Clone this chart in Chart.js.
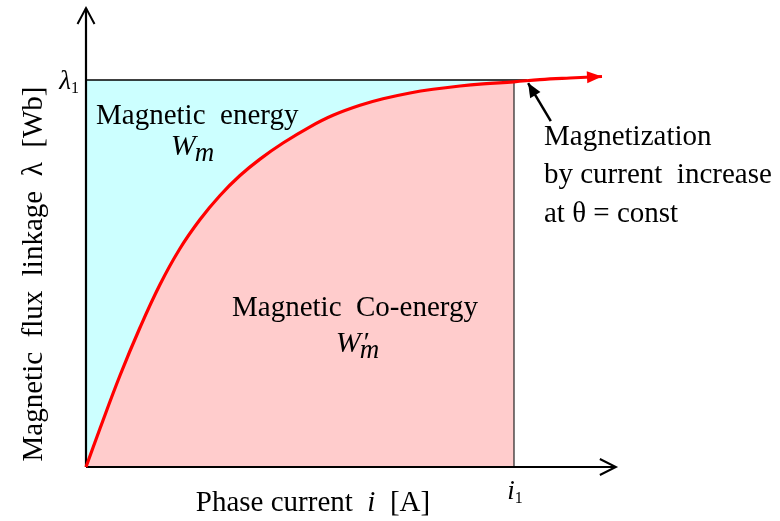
<!DOCTYPE html>
<html>
<head>
<meta charset="utf-8">
<script src="https://cdn.jsdelivr.net/npm/chart.js@4/dist/chart.umd.min.js"></script>
<style>
  html, body { margin: 0; padding: 0; background: #ffffff; }
  #wrap { width: 780px; height: 521px; position: relative; }
</style>
</head>
<body>
<div id="wrap"><canvas id="c"></canvas></div>
<script>
// ---- data (units: i / i1 and lambda / lambda1) ----
const curveCurrent = [0, 0.0327, 0.0794, 0.1262, 0.1729, 0.2196, 0.2664, 0.3131, 0.3598, 0.4065, 0.4603, 0.5234, 0.5771, 0.6402, 0.6939, 0.7570, 0.8107, 0.8738, 0.9276, 1.000, 1.0607, 1.1308, 1.2056];
const curveFlux    = [0, 0.0995, 0.2364, 0.3605, 0.4716, 0.5646, 0.6395, 0.7016, 0.7532, 0.7956, 0.8372, 0.8791, 0.9088, 0.9346, 0.9514, 0.9664, 0.9760, 0.9845, 0.9899, 0.9953, 1.0010, 1.0052, 1.0090];
const operatingCurrent = 1;   // i1
const operatingFlux = 1;      // lambda1
const xAxisEnd = 1.238;
const yAxisEnd = 1.186;
const xTickValues = [1];
const xTickLabels = [['i', '1']];
const yTickValues = [1];
const yTickLabels = [['λ', '1']];
const xAxisTitle = ['Phase current  ', 'i', '  [A]'];
const yAxisTitle = 'Magnetic  flux  linkage  λ  [Wb]';
const energyLabel = ['Magnetic  energy', 'W', 'm'];
const coenergyLabel = ['Magnetic  Co-energy', 'W', 'm'];
const noteLines = ['Magnetization', 'by current  increase', 'at θ = const'];
const notePointFrom = [1.086, 0.894];
const notePointTo = [1.033, 0.992];

// ---- derived datasets ----
const curvePts = curveCurrent.map((x, k) => ({ x: x, y: curveFlux[k] }));
const coPts = curvePts.filter(p => p.x <= operatingCurrent);
const topPts = [{ x: 0, y: operatingFlux }, { x: operatingCurrent, y: operatingFlux }];

const SERIF = '"Liberation Serif", "Times New Roman", serif';

function arrowHead(ctx, fx, fy, tx, ty, len, half, filled, color, lw) {
  const a = Math.atan2(ty - fy, tx - fx);
  const bx = tx - len * Math.cos(a), by = ty - len * Math.sin(a);
  const px = -Math.sin(a) * half, py = Math.cos(a) * half;
  ctx.save();
  ctx.strokeStyle = color; ctx.fillStyle = color; ctx.lineWidth = lw;
  ctx.lineJoin = 'miter';
  ctx.beginPath();
  ctx.moveTo(bx + px, by + py);
  ctx.lineTo(tx, ty);
  ctx.lineTo(bx - px, by - py);
  if (filled) { ctx.closePath(); ctx.fill(); } else { ctx.stroke(); }
  ctx.restore();
}

function subText(ctx, main, sub, x, y, size, subSize, italicSub, align, drop, prime) {
  ctx.save();
  ctx.textBaseline = 'alphabetic';
  ctx.textAlign = 'left';
  ctx.font = 'italic ' + size + 'px ' + SERIF;
  const w1 = ctx.measureText(main).width;
  ctx.font = (italicSub ? 'italic ' : '') + subSize + 'px ' + SERIF;
  const w2 = ctx.measureText(sub).width;
  const total = w1 + w2;
  let x0 = x;
  if (align === 'center') x0 = x - total / 2;
  if (align === 'right') x0 = x - total;
  ctx.fillStyle = '#000';
  ctx.font = 'italic ' + size + 'px ' + SERIF;
  ctx.fillText(main, x0, y);
  if (prime) {
    ctx.font = (size - 2) + 'px ' + SERIF;
    ctx.fillText('′', x0 + w1 + 3, y - 1);
  }
  ctx.font = (italicSub ? 'italic ' : '') + subSize + 'px ' + SERIF;
  ctx.fillText(sub, x0 + w1 - (italicSub ? 1 : 0), y + drop);
  ctx.restore();
}

const decor = {
  id: 'decor',
  afterDatasetsDraw(chart) {
    const ctx = chart.ctx;
    const xs = chart.scales.x, ys = chart.scales.y;
    const X = v => xs.getPixelForValue(v), Y = v => ys.getPixelForValue(v);
    // axis arrowheads (open)
    arrowHead(ctx, X(0), Y(0), X(0), Y(yAxisEnd), 16, 8.5, false, '#000', 2);
    arrowHead(ctx, X(0), Y(0), X(xAxisEnd), Y(0), 16, 8, false, '#000', 2);
    // red curve arrowhead
    const n = curvePts.length;
    arrowHead(ctx, X(curvePts[n - 2].x), Y(curvePts[n - 2].y), X(curvePts[n - 1].x), Y(curvePts[n - 1].y), 15, 6, true, '#ff0000', 1);
    // annotation arrow
    ctx.save();
    ctx.strokeStyle = '#000'; ctx.lineWidth = 2.5;
    ctx.beginPath();
    ctx.moveTo(X(notePointFrom[0]), Y(notePointFrom[1]));
    ctx.lineTo(X(notePointTo[0]), Y(notePointTo[1]));
    ctx.stroke();
    ctx.restore();
    arrowHead(ctx, X(notePointFrom[0]), Y(notePointFrom[1]), X(notePointTo[0]), Y(notePointTo[1]), 14, 6, true, '#000', 1);

    // tick labels
    xTickValues.forEach((v, k) => subText(ctx, xTickLabels[k][0], xTickLabels[k][1], X(v) + 1, Y(0) + 32, 27, 16, false, 'center', 4));
    yTickValues.forEach((v, k) => subText(ctx, yTickLabels[k][0], yTickLabels[k][1], X(0) - 7, Y(v) + 9, 27, 16, false, 'right', 4));

    ctx.save();
    ctx.fillStyle = '#000';
    ctx.textBaseline = 'alphabetic';
    // x axis title with italic i
    const widths = xAxisTitle.map((p, k) => { ctx.font = (k === 1 ? 'italic ' : '') + '29px ' + SERIF; return ctx.measureText(p).width; });
    let xx = 313 - widths.reduce((a, b) => a + b, 0) / 2;
    ctx.textAlign = 'left';
    xAxisTitle.forEach((p, k) => { ctx.font = (k === 1 ? 'italic ' : '') + '29px ' + SERIF; ctx.fillText(p, xx, 511); xx += widths[k]; });
    // y axis title
    ctx.save();
    ctx.translate(42, 274);
    ctx.rotate(-Math.PI / 2);
    ctx.textAlign = 'center';
    ctx.font = '29px ' + SERIF;
    ctx.fillText(yAxisTitle, 0, 0);
    ctx.restore();
    // region labels
    ctx.textAlign = 'left';
    ctx.font = '29px ' + SERIF;
    ctx.fillText(energyLabel[0], 96, 124);
    ctx.fillText(coenergyLabel[0], 232, 316);
    // notes
    ctx.fillText(noteLines[0], 544, 145);
    ctx.fillText(noteLines[1], 544, 183);
    ctx.fillText(noteLines[2], 544, 222);
    ctx.restore();
    subText(ctx, energyLabel[1], energyLabel[2], 193, 155, 30, 27, true, 'center', 6);
    subText(ctx, coenergyLabel[1], coenergyLabel[2], 358, 352, 30, 27, true, 'center', 6, true);
  }
};

new Chart(document.getElementById('c'), {
  type: 'scatter',
  data: {
    datasets: [
      { // magnetization curve
        data: curvePts, showLine: true, borderColor: '#ff0000', borderWidth: 3.2,
        pointRadius: 0, fill: false, tension: 0.4,
        borderCapStyle: 'butt', order: 0, clip: false
      },
      { // co-energy area
        data: coPts, showLine: true, borderColor: '#000000', borderWidth: 1,
        backgroundColor: '#ffcccc', pointRadius: 0, fill: 'origin', tension: 0.4,
        order: 4, clip: false
      },
      { // energy area (to lambda1)
        data: topPts, showLine: true, borderColor: 'rgba(0,0,0,0)', borderWidth: 0,
        backgroundColor: '#ccffff', pointRadius: 0, fill: 'origin', order: 5, clip: false
      },
      { // lambda1 line
        data: [{ x: 0, y: operatingFlux }, { x: 1.03, y: operatingFlux }], showLine: true,
        borderColor: '#000', borderWidth: 1.6, pointRadius: 0, fill: false, order: 3, clip: false
      },
      { // i1 line
        data: [{ x: operatingCurrent, y: 0 }, { x: operatingCurrent, y: curveFlux[curveCurrent.indexOf(operatingCurrent)] }], showLine: true,
        borderColor: '#222', borderWidth: 1.2, pointRadius: 0, fill: false, order: 3, clip: false
      },
      { // x axis
        data: [{ x: 0, y: 0 }, { x: xAxisEnd, y: 0 }], showLine: true,
        borderColor: '#000', borderWidth: 2.2, pointRadius: 0, fill: false, order: 1, clip: false
      },
      { // y axis
        data: [{ x: 0, y: 0 }, { x: 0, y: yAxisEnd }], showLine: true,
        borderColor: '#000', borderWidth: 2.2, pointRadius: 0, fill: false, order: 1, clip: false
      }
    ]
  },
  options: {
    responsive: true,
    maintainAspectRatio: false,
    animation: false,
    layout: { padding: { left: 86, right: 0, top: 0, bottom: 54 } },
    scales: {
      x: { type: 'linear', min: 0, max: 694 / 428, display: false },
      y: { type: 'linear', min: 0, max: 467 / 387, display: false }
    },
    plugins: { legend: { display: false }, tooltip: { enabled: false }, title: { display: false } },
    events: []
  },
  plugins: [decor]
});
</script>
</body>
</html>
